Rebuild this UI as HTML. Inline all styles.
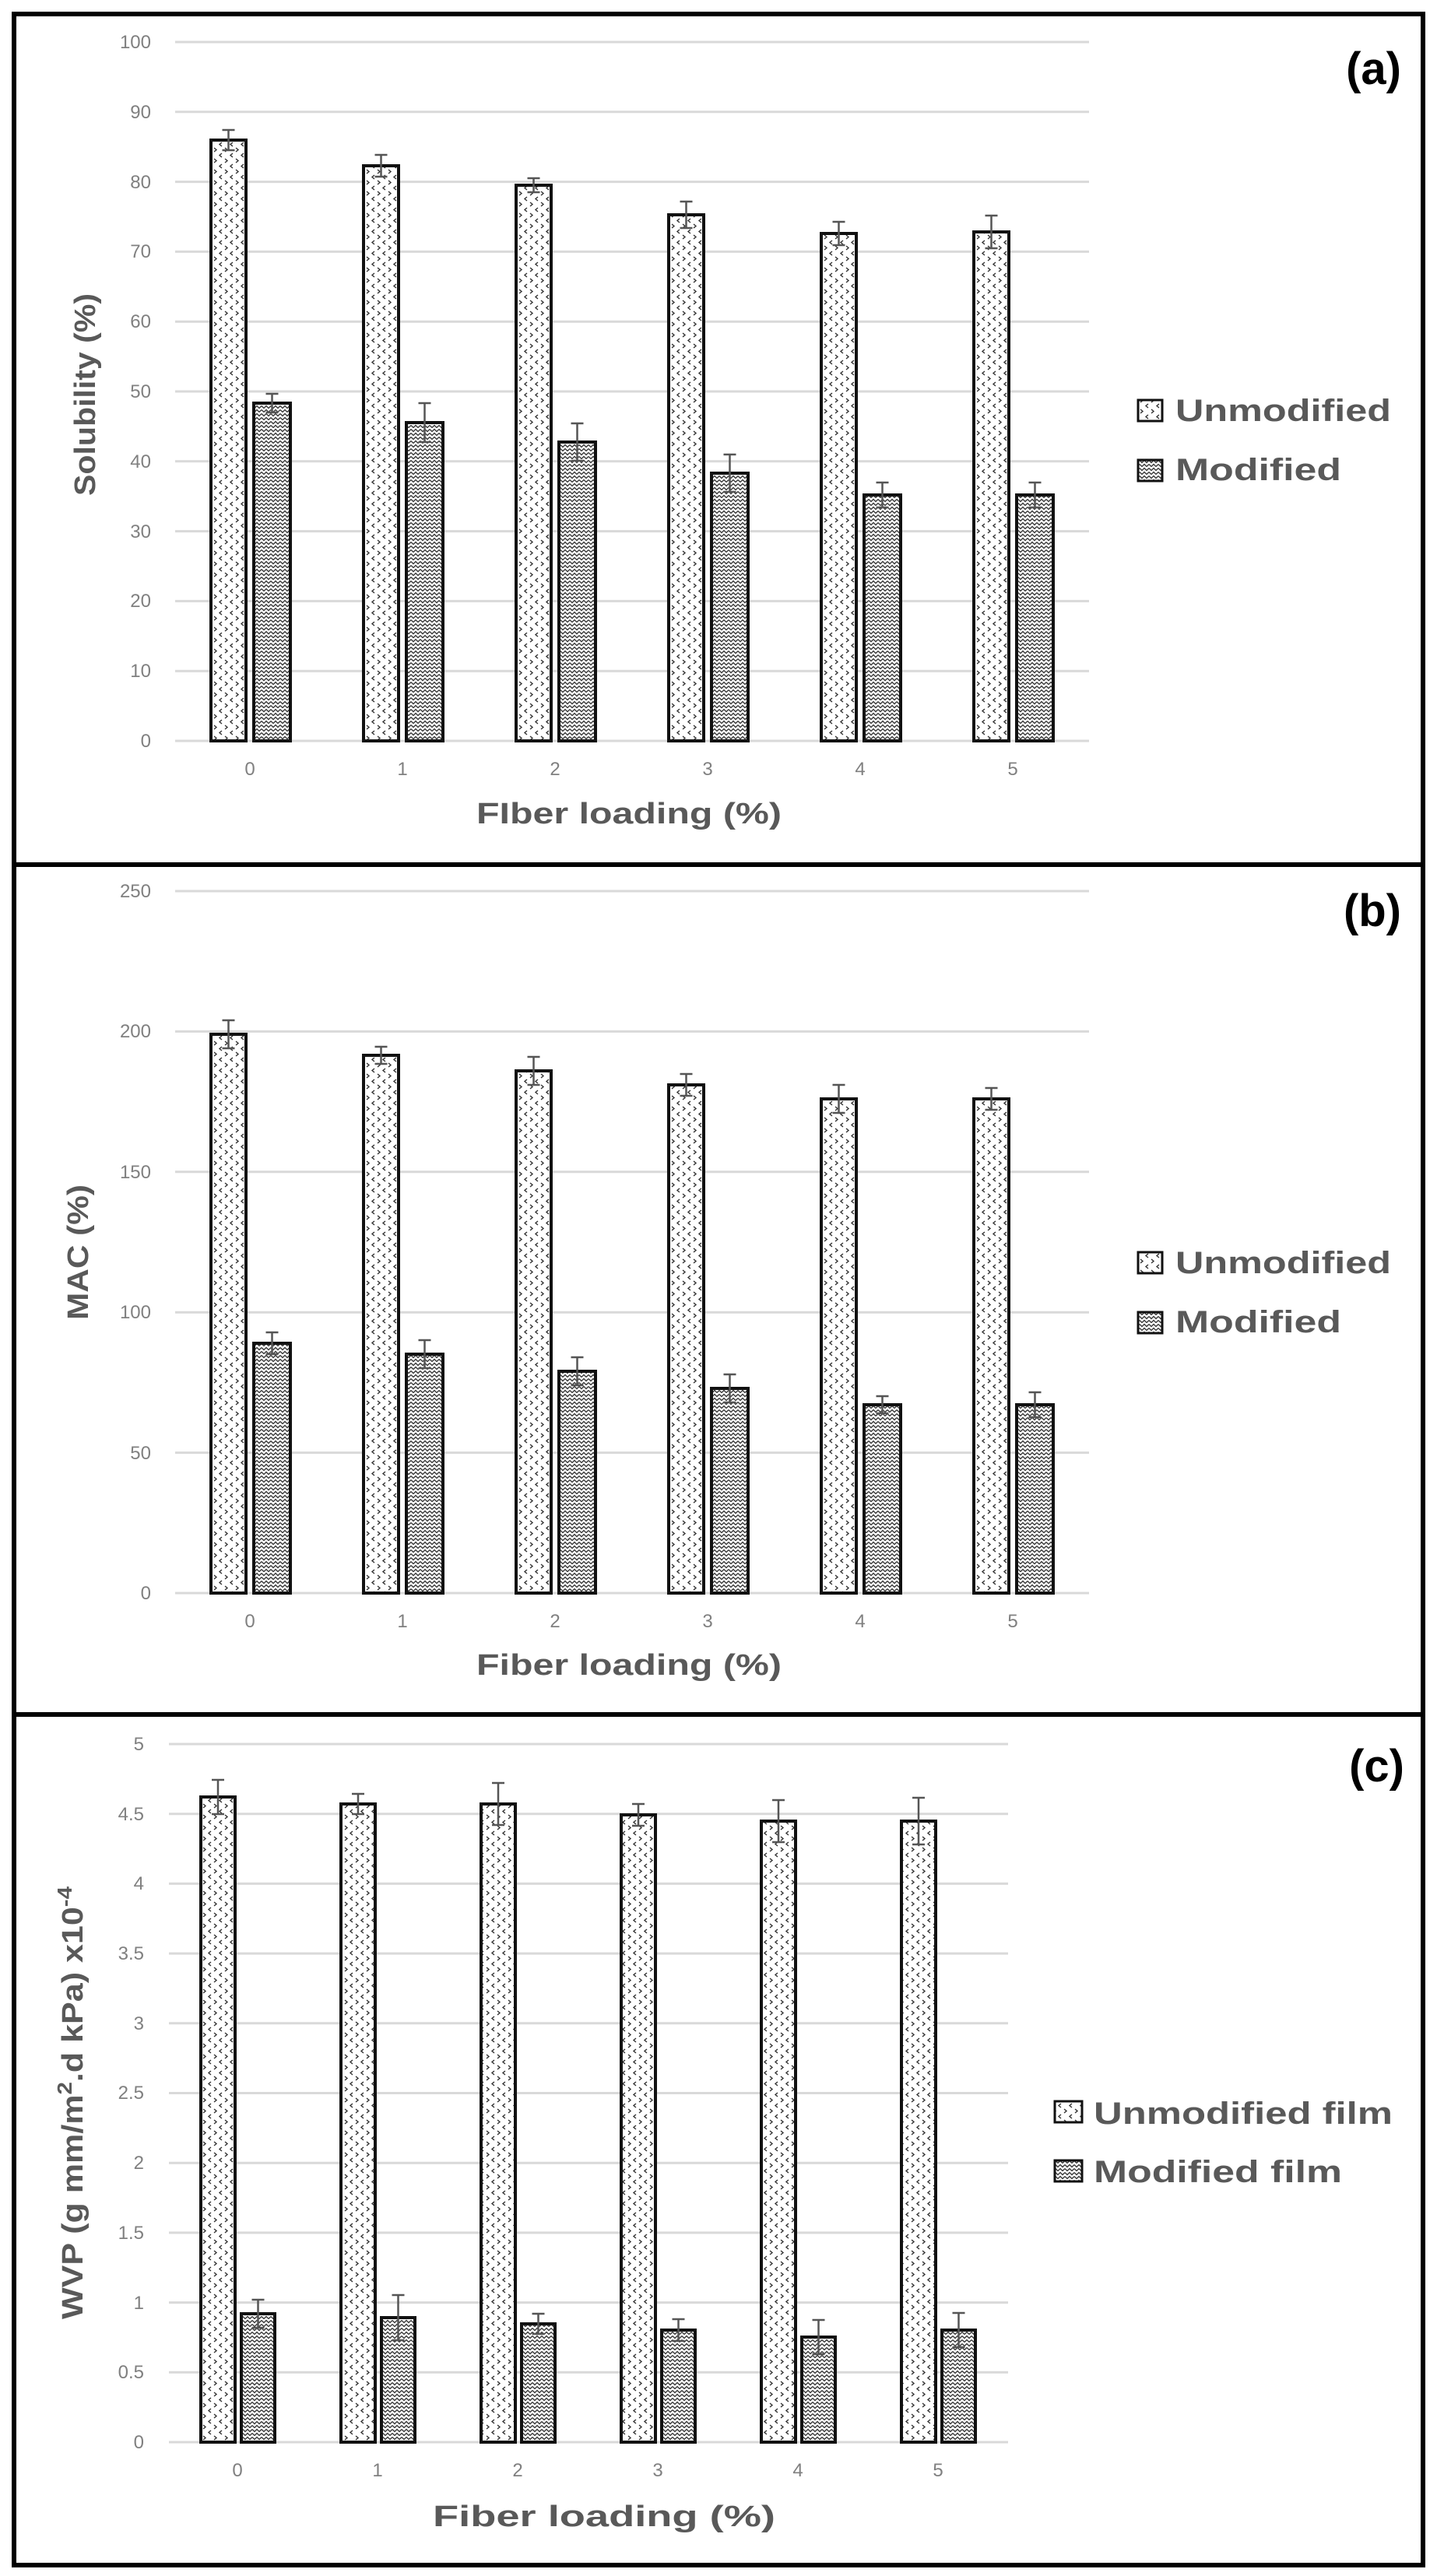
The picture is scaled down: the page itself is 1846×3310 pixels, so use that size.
<!DOCTYPE html>
<html><head><meta charset="utf-8"><style>
html,body{margin:0;padding:0;background:#fff;}
svg{display:block;}
text{font-family:"Liberation Sans",sans-serif;}
.tk{font-size:24px;fill:#808080;text-anchor:end;}
.xl{font-size:24px;fill:#808080;text-anchor:middle;}
.ti{font-size:38px;font-weight:bold;fill:#595959;}
.lg{font-size:40px;font-weight:bold;fill:#595959;}
.pl{font-size:58px;font-weight:bold;fill:#000;}
.g{stroke:#d9d9d9;stroke-width:3;}
.u{fill:url(#pu);stroke:#111;stroke-width:4;}
.m{fill:url(#pm);stroke:#111;stroke-width:4;}
.e{stroke:#555;stroke-width:2.5;fill:none;}
</style></head><body>
<svg width="1846" height="3310" viewBox="0 0 1846 3310" xmlns="http://www.w3.org/2000/svg">
<defs>
<pattern id="pu" width="14" height="14" patternUnits="userSpaceOnUse">
<rect width="14" height="14" fill="#fff"/>
<path d="M5 1 l-3 2.5 l3 2.5 M9 8 l3 2.5 l-3 2.5" stroke="#333" stroke-width="1.4" fill="none"/>
</pattern>
<pattern id="pm" width="12" height="10" patternUnits="userSpaceOnUse">
<rect width="12" height="10" fill="#fff"/>
<path d="M0 1.5 l3 3 l3 -3 l3 3 l3 -3 M0 6.5 l3 3 l3 -3 l3 3 l3 -3" stroke="#3a3a3a" stroke-width="1.4" fill="none"/>
</pattern>
</defs>
<rect x="0" y="0" width="1846" height="3310" fill="#fff"/>
<rect x="18" y="18" width="1810" height="3278" fill="none" stroke="#000" stroke-width="6"/>
<line x1="18" y1="1111" x2="1828" y2="1111" stroke="#000" stroke-width="6"/>
<line x1="18" y1="2203" x2="1828" y2="2203" stroke="#000" stroke-width="6"/>

<!-- ===== Panel a ===== -->
<g class="g">
<line x1="225" x2="1399" y1="54" y2="54"/><line x1="225" x2="1399" y1="143.8" y2="143.8"/>
<line x1="225" x2="1399" y1="233.6" y2="233.6"/><line x1="225" x2="1399" y1="323.4" y2="323.4"/>
<line x1="225" x2="1399" y1="413.2" y2="413.2"/><line x1="225" x2="1399" y1="503" y2="503"/>
<line x1="225" x2="1399" y1="592.8" y2="592.8"/><line x1="225" x2="1399" y1="682.6" y2="682.6"/>
<line x1="225" x2="1399" y1="772.4" y2="772.4"/><line x1="225" x2="1399" y1="862.2" y2="862.2"/>
<line x1="225" x2="1399" y1="952" y2="952"/>
</g>
<g class="tk">
<text x="194" y="62">100</text><text x="194" y="152">90</text><text x="194" y="242">80</text>
<text x="194" y="331">70</text><text x="194" y="421">60</text><text x="194" y="511">50</text>
<text x="194" y="601">40</text><text x="194" y="691">30</text><text x="194" y="780">20</text>
<text x="194" y="870">10</text><text x="194" y="960">0</text>
</g>
<g class="xl">
<text x="321" y="996">0</text><text x="517" y="996">1</text><text x="713" y="996">2</text>
<text x="909" y="996">3</text><text x="1105" y="996">4</text><text x="1301" y="996">5</text>
</g>
<rect class="u" x="271" y="180" width="45" height="772"/>
<rect class="u" x="467" y="213" width="45" height="739"/>
<rect class="u" x="663" y="238" width="45" height="714"/>
<rect class="u" x="859" y="276" width="45" height="676"/>
<rect class="u" x="1055" y="300" width="45" height="652"/>
<rect class="u" x="1251" y="298" width="45" height="654"/>
<rect class="m" x="326" y="518" width="47" height="434"/>
<rect class="m" x="522" y="543" width="47" height="409"/>
<rect class="m" x="718" y="568" width="47" height="384"/>
<rect class="m" x="914" y="608" width="47" height="344"/>
<rect class="m" x="1110" y="636" width="47" height="316"/>
<rect class="m" x="1306" y="636" width="47" height="316"/>
<path class="e" d="M293.5 167v26m-8 -26h16m-16 26h16
M489.5 199v28m-8 -28h16m-16 28h16
M685.5 229v18m-8 -18h16m-16 18h16
M881.5 259v34m-8 -34h16m-16 34h16
M1077.5 285v30m-8 -30h16m-16 30h16
M1273.5 277v42m-8 -42h16m-16 42h16
M349.5 506v24m-8 -24h16m-16 24h16
M545.5 518v50m-8 -50h16m-16 50h16
M741.5 544v48m-8 -48h16m-16 48h16
M937.5 584v48m-8 -48h16m-16 48h16
M1133.5 620v32m-8 -32h16m-16 32h16
M1329.5 620v32m-8 -32h16m-16 32h16"/>
<text class="ti" transform="translate(122,507) rotate(-90)" text-anchor="middle" textLength="260" lengthAdjust="spacingAndGlyphs">Solubility (%)</text>
<text class="ti" x="612" y="1058" textLength="392" lengthAdjust="spacingAndGlyphs">FIber loading (%)</text>
<rect x="1462" y="514" width="31" height="27" fill="url(#pu)" stroke="#111" stroke-width="3"/>
<rect x="1462" y="591" width="31" height="27" fill="url(#pm)" stroke="#111" stroke-width="3"/>
<text class="lg" x="1510" y="541" textLength="277" lengthAdjust="spacingAndGlyphs">Unmodified</text>
<text class="lg" x="1510" y="617" textLength="213" lengthAdjust="spacingAndGlyphs">Modified</text>
<text class="pl" x="1800" y="108" text-anchor="end">(a)</text>

<!-- ===== Panel b ===== -->
<g class="g">
<line x1="225" x2="1399" y1="1145" y2="1145"/><line x1="225" x2="1399" y1="1325.4" y2="1325.4"/>
<line x1="225" x2="1399" y1="1505.8" y2="1505.8"/><line x1="225" x2="1399" y1="1686.2" y2="1686.2"/>
<line x1="225" x2="1399" y1="1866.6" y2="1866.6"/><line x1="225" x2="1399" y1="2047" y2="2047"/>
</g>
<g class="tk">
<text x="194" y="1153">250</text><text x="194" y="1333">200</text><text x="194" y="1514">150</text>
<text x="194" y="1694">100</text><text x="194" y="1875">50</text><text x="194" y="2055">0</text>
</g>
<g class="xl">
<text x="321" y="2091">0</text><text x="517" y="2091">1</text><text x="713" y="2091">2</text>
<text x="909" y="2091">3</text><text x="1105" y="2091">4</text><text x="1301" y="2091">5</text>
</g>
<rect class="u" x="271" y="1329" width="45" height="718"/>
<rect class="u" x="467" y="1356" width="45" height="691"/>
<rect class="u" x="663" y="1376" width="45" height="671"/>
<rect class="u" x="859" y="1394" width="45" height="653"/>
<rect class="u" x="1055" y="1412" width="45" height="635"/>
<rect class="u" x="1251" y="1412" width="45" height="635"/>
<rect class="m" x="326" y="1726" width="47" height="321"/>
<rect class="m" x="522" y="1740" width="47" height="307"/>
<rect class="m" x="718" y="1762" width="47" height="285"/>
<rect class="m" x="914" y="1784" width="47" height="263"/>
<rect class="m" x="1110" y="1805" width="47" height="242"/>
<rect class="m" x="1306" y="1805" width="47" height="242"/>
<path class="e" d="M293.5 1311v36m-8 -36h16m-16 36h16
M489.5 1345v22m-8 -22h16m-16 22h16
M685.5 1358v36m-8 -36h16m-16 36h16
M881.5 1380v28m-8 -28h16m-16 28h16
M1077.5 1394v36m-8 -36h16m-16 36h16
M1273.5 1398v28m-8 -28h16m-16 28h16
M349.5 1712v28m-8 -28h16m-16 28h16
M545.5 1722v36m-8 -36h16m-16 36h16
M741.5 1744v36m-8 -36h16m-16 36h16
M937.5 1766v36m-8 -36h16m-16 36h16
M1133.5 1794v22m-8 -22h16m-16 22h16
M1329.5 1789v32m-8 -32h16m-16 32h16"/>
<text class="ti" transform="translate(113,1609) rotate(-90)" text-anchor="middle" textLength="174" lengthAdjust="spacingAndGlyphs">MAC (%)</text>
<text class="ti" x="612" y="2152" textLength="392" lengthAdjust="spacingAndGlyphs">Fiber loading (%)</text>
<rect x="1462" y="1609" width="31" height="27" fill="url(#pu)" stroke="#111" stroke-width="3"/>
<rect x="1462" y="1686" width="31" height="27" fill="url(#pm)" stroke="#111" stroke-width="3"/>
<text class="lg" x="1510" y="1636" textLength="277" lengthAdjust="spacingAndGlyphs">Unmodified</text>
<text class="lg" x="1510" y="1712" textLength="213" lengthAdjust="spacingAndGlyphs">Modified</text>
<text class="pl" x="1800" y="1190" text-anchor="end">(b)</text>

<!-- ===== Panel c ===== -->
<g class="g">
<line x1="217" x2="1295" y1="2241" y2="2241"/><line x1="217" x2="1295" y1="2330.7" y2="2330.7"/>
<line x1="217" x2="1295" y1="2420.4" y2="2420.4"/><line x1="217" x2="1295" y1="2510.1" y2="2510.1"/>
<line x1="217" x2="1295" y1="2599.8" y2="2599.8"/><line x1="217" x2="1295" y1="2689.5" y2="2689.5"/>
<line x1="217" x2="1295" y1="2779.2" y2="2779.2"/><line x1="217" x2="1295" y1="2868.9" y2="2868.9"/>
<line x1="217" x2="1295" y1="2958.6" y2="2958.6"/><line x1="217" x2="1295" y1="3048.3" y2="3048.3"/>
<line x1="217" x2="1295" y1="3138" y2="3138"/>
</g>
<g class="tk">
<text x="185" y="2249">5</text><text x="185" y="2339">4.5</text><text x="185" y="2428">4</text>
<text x="185" y="2518">3.5</text><text x="185" y="2608">3</text><text x="185" y="2697">2.5</text>
<text x="185" y="2787">2</text><text x="185" y="2877">1.5</text><text x="185" y="2967">1</text>
<text x="185" y="3056">0.5</text><text x="185" y="3146">0</text>
</g>
<g class="xl">
<text x="305" y="3182">0</text><text x="485" y="3182">1</text><text x="665" y="3182">2</text>
<text x="845" y="3182">3</text><text x="1025" y="3182">4</text><text x="1205" y="3182">5</text>
</g>
<rect class="u" x="258" y="2309" width="44" height="829"/>
<rect class="u" x="438" y="2318" width="44" height="820"/>
<rect class="u" x="618" y="2318" width="44" height="820"/>
<rect class="u" x="798" y="2332" width="44" height="806"/>
<rect class="u" x="978" y="2340" width="44" height="798"/>
<rect class="u" x="1158" y="2340" width="44" height="798"/>
<rect class="m" x="310" y="2973" width="43" height="165"/>
<rect class="m" x="490" y="2978" width="43" height="160"/>
<rect class="m" x="670" y="2986" width="43" height="152"/>
<rect class="m" x="850" y="2994" width="43" height="144"/>
<rect class="m" x="1030" y="3003" width="43" height="135"/>
<rect class="m" x="1210" y="2994" width="43" height="144"/>
<path class="e" d="M280 2287v44m-8 -44h16m-16 44h16
M460 2305v26m-8 -26h16m-16 26h16
M640 2291v54m-8 -54h16m-16 54h16
M820 2318v28m-8 -28h16m-16 28h16
M1000 2313v54m-8 -54h16m-16 54h16
M1180 2310v60m-8 -60h16m-16 60h16
M331.5 2955v36m-8 -36h16m-16 36h16
M511.5 2949v58m-8 -58h16m-16 58h16
M691.5 2973v26m-8 -26h16m-16 26h16
M871.5 2980v28m-8 -28h16m-16 28h16
M1051.5 2981v44m-8 -44h16m-16 44h16
M1231.5 2972v44m-8 -44h16m-16 44h16"/>
<text class="ti" transform="translate(106,2702) rotate(-90)" text-anchor="middle" textLength="556" lengthAdjust="spacingAndGlyphs">WVP (g mm/m<tspan font-size="26" dy="-14">2</tspan><tspan dy="14">.d kPa) x10</tspan><tspan font-size="26" dy="-14">-4</tspan></text>
<text class="ti" x="556" y="3246" textLength="440" lengthAdjust="spacingAndGlyphs">Fiber loading (%)</text>
<rect x="1355" y="2700" width="35" height="27" fill="url(#pu)" stroke="#111" stroke-width="3"/>
<rect x="1355" y="2776" width="35" height="27" fill="url(#pm)" stroke="#111" stroke-width="3"/>
<text class="lg" x="1405" y="2729" textLength="384" lengthAdjust="spacingAndGlyphs">Unmodified film</text>
<text class="lg" x="1405" y="2804" textLength="319" lengthAdjust="spacingAndGlyphs">Modified film</text>
<text class="pl" x="1804" y="2289" text-anchor="end">(c)</text>
</svg>
</body></html>
